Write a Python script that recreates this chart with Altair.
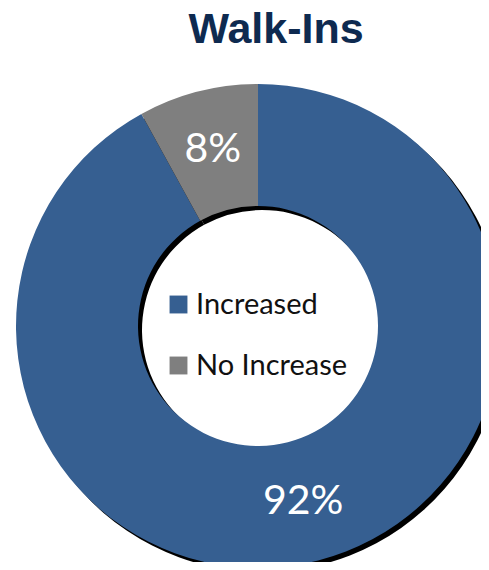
import altair as alt
import pandas as pd

TITLE = ["Walk-Ins"]
categories = ["Increased", "No Increase"]
values = [92, 8]
labels = ["92%", "8%"]
order = [0, 1]
colors = ["#365F91", "#7F7F7F"]

df = pd.DataFrame({"category": categories, "value": values, "label": labels, "order": order})
tdf = pd.DataFrame({"t": TITLE})

CX, CY = 250, 318
R_OUT, R_IN = 242, 120

theta = alt.Theta("value:Q", stack=True)
ordr = alt.Order("order:Q")

shadow = alt.Chart(df).mark_arc(outerRadius=R_OUT, innerRadius=R_IN, color="#000000").encode(
    theta=theta, order=ordr, x=alt.value(CX + 4), y=alt.value(CY + 4)
)

main = alt.Chart(df).mark_arc(outerRadius=R_OUT, innerRadius=R_IN).encode(
    theta=theta,
    order=ordr,
    x=alt.value(CX),
    y=alt.value(CY),
    color=alt.Color(
        "category:N",
        scale=alt.Scale(domain=categories, range=colors),
        legend=alt.Legend(
            title=None,
            orient="none",
            legendX=156,
            legendY=282,
            symbolType="square",
            symbolSize=320,
            symbolStrokeWidth=0,
            symbolOpacity=1,
            labelFont="Lato",
            labelFontSize=29,
            labelColor="#111111",
            labelOffset=3,
            rowPadding=31,
            labelLimit=300,
        ),
    ),
)

text = alt.Chart(df).mark_text(font="Lato", fontSize=41, color="white", baseline="middle", align="center").encode(
    theta=theta, order=ordr, radius=alt.value(182), x=alt.value(CX), y=alt.value(CY), text="label:N"
)

title = alt.Chart(tdf).mark_text(
    font="Liberation Sans", fontWeight="bold", fontSize=43, color="#0E2A50", align="center", baseline="alphabetic"
).encode(x=alt.value(268), y=alt.value(35), text="t:N")

chart = alt.layer(shadow, main, text, title).properties(
    width=473, height=554, autosize=alt.AutoSizeParams(type="none"), padding=0
).configure_view(stroke=None)

chart.save("out.html", embed_options={"renderer": "svg", "actions": False})
